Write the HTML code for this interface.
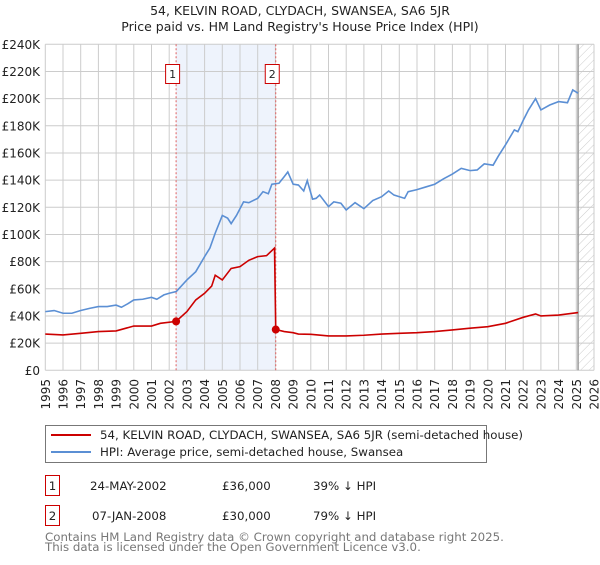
<!DOCTYPE html>
<html><head><meta charset="utf-8"><style>
body{margin:0;background:#fff;font-family:"Liberation Sans","DejaVu Sans",sans-serif;}
svg text{font-family:"DejaVu Sans","Liberation Sans",sans-serif;}
</style></head><body>
<svg id="chart" width="600" height="560" xmlns="http://www.w3.org/2000/svg">
<defs><pattern id="hatch" width="6" height="6" patternUnits="userSpaceOnUse" patternTransform="rotate(45)"><line x1="0" y1="0" x2="0" y2="6" stroke="#ccc" stroke-width="1"/></pattern></defs>
<text x="300" y="15" text-anchor="middle" font-size="12.5" fill="#222">54, KELVIN ROAD, CLYDACH, SWANSEA, SA6 5JR</text>
<text x="300" y="31" text-anchor="middle" font-size="12.5" fill="#222">Price paid vs. HM Land Registry's House Price Index (HPI)</text>
<g id="plot"></g>
<g>
<rect x="45.5" y="425.5" width="441" height="37" fill="#fff" stroke="#777"/>
<line x1="51" y1="435" x2="91" y2="435" stroke="#cc0000" stroke-width="2"/>
<text x="100" y="439" font-size="11.8" fill="#222">54, KELVIN ROAD, CLYDACH, SWANSEA, SA6 5JR (semi-detached house)</text>
<line x1="51" y1="452" x2="91" y2="452" stroke="#5b8fd4" stroke-width="2"/>
<text x="100" y="456" font-size="11.8" fill="#222">HPI: Average price, semi-detached house, Swansea</text>
</g>
<g font-size="11.8" fill="#222">
<rect x="45.5" y="475.5" width="14" height="20" fill="#fff" stroke="#c00"/>
<text x="52.5" y="490" text-anchor="middle">1</text>
<text x="90" y="490">24-MAY-2002</text><text x="222" y="490">£36,000</text><text x="313" y="490">39% ↓ HPI</text>
<rect x="45.5" y="505.5" width="14" height="20" fill="#fff" stroke="#c00"/>
<text x="52.5" y="520" text-anchor="middle">2</text>
<text x="92" y="520">07-JAN-2008</text><text x="222" y="520">£30,000</text><text x="313" y="520">79% ↓ HPI</text>
</g>
<text x="45" y="541" font-size="11.8" fill="#777">Contains HM Land Registry data © Crown copyright and database right 2025.</text>
<text x="45" y="551" font-size="11.8" fill="#777">This data is licensed under the Open Government Licence v3.0.</text>
</svg>
<script>
const yTicks=[0,20,40,60,80,100,120,140,160,180,200,220,240];
const yearTicks=[1995,1996,1997,1998,1999,2000,2001,2002,2003,2004,2005,2006,2007,2008,2009,2010,2011,2012,2013,2014,2015,2016,2017,2018,2019,2020,2021,2022,2023,2024,2025,2026];
const hpiYears=[1995,1995.5,1996,1996.5,1997,1997.5,1998,1998.5,1999,1999.3,1999.7,2000,2000.5,2001,2001.3,2001.7,2002,2002.4,2003,2003.5,2004,2004.3,2004.6,2005,2005.3,2005.5,2005.8,2006.2,2006.5,2007,2007.3,2007.6,2007.8,2008.2,2008.5,2008.7,2009,2009.3,2009.6,2009.8,2010.1,2010.3,2010.5,2011,2011.3,2011.7,2012,2012.5,2013,2013.5,2014,2014.4,2014.7,2015.3,2015.5,2016,2016.5,2017,2017.5,2018,2018.5,2019,2019.4,2019.8,2020.3,2020.6,2021,2021.5,2021.7,2022,2022.3,2022.7,2023,2023.5,2024,2024.5,2024.8,2025.1];
const hpiValues=[43.2,44,42,42,44,45.6,46.9,46.9,48,46.4,49.3,51.8,52.3,53.7,52.3,55.5,56.7,58,66.5,72.6,83.7,90,101,114,112,108,114,124,123.4,126.6,131.5,130,137,137.7,142.6,146,137,136.4,132,139.6,126,126.6,129,120.5,124,123,118,123.4,119,125,127.8,132,129,126.6,131.5,133,135,137,141,144.5,148.7,147,147.5,152,151,157.8,166,177,175.7,184,191.7,200,191.7,195.3,197.8,197,206.4,204];
const paidYears=[1995,1996,1997,1998,1999,2000,2001,2001.5,2002.39,2003,2003.5,2004,2004.4,2004.6,2005,2005.5,2006,2006.5,2007,2007.5,2007.95,2008.02,2008.5,2009,2009.3,2010,2011,2012,2013,2014,2015,2016,2017,2018,2019,2020,2021,2022,2022.7,2023,2024,2025.1];
const paidValues=[26.7,26,27.2,28.5,29,32.6,32.6,34.6,36,43.2,51.8,56.7,62,70,66.5,75,76.3,81,83.7,84.4,90,30,28.5,27.7,26.7,26.5,25.3,25.3,25.8,26.7,27.2,27.7,28.5,29.7,31,32.1,34.6,39,41.5,40,40.7,42.5];
const saleYears=[2002.39,2008.02];
const saleValues=[36,30];
const saleLabels=['1','2'];
const forecastStart=2025.1;

const NS='http://www.w3.org/2000/svg';
const L=45.3,R=594,T=44.3,B=370.3;
const xs=y=>L+(y-1995)/(2026-1995)*(R-L);
const ys=v=>B-v/240*(B-T);
const g=document.getElementById('plot');
function mk(t,a,p){const e=document.createElementNS(NS,t);for(const k in a)e.setAttribute(k,a[k]);(p||g).appendChild(e);return e;}

const sh=mk('rect',{x:xs(saleYears[0]),y:T,width:xs(saleYears[1])-xs(saleYears[0]),height:B-T,fill:'#eef3fc'});


const ht=mk('rect',{x:xs(forecastStart),y:T,width:R-xs(forecastStart),height:B-T,fill:'url(#hatch)'});



yTicks.forEach(v=>{
 const ln=mk('line',{x1:L,x2:R,y1:ys(v),y2:ys(v),stroke:'#cccccc','stroke-width':1});
 
 
 const t=mk('text',{x:40,y:ys(v)+4.5,'text-anchor':'end','font-size':12,fill:'#222'});
 
 
 t.textContent='£'+(v===0?'0':v+'K');
});
yearTicks.forEach(yr=>{
 const ln=mk('line',{x1:xs(yr),x2:xs(yr),y1:T,y2:B,stroke:'#cccccc','stroke-width':1});
 
 
 const t=mk('text',{x:0,y:0,'text-anchor':'end','font-size':12,fill:'#222',transform:`translate(${xs(yr)+4.5},379) rotate(-90)`});
 
 
 t.textContent=yr;
});
const fl=mk('line',{x1:xs(forecastStart),x2:xs(forecastStart),y1:T,y2:B,stroke:'#999','stroke-width':1.5});



saleYears.forEach((yr,i)=>{
 const ln=mk('line',{x1:xs(yr),x2:xs(yr),y1:T,y2:B,stroke:'#e06060','stroke-width':1,'stroke-dasharray':'2,2'});
 
 
 const r=mk('rect',{x:xs(yr)-10.5,y:64.5,width:14,height:19,fill:'#fff',stroke:'#c00'});
 
 
 const t=mk('text',{x:xs(yr)-3.5,y:78,'text-anchor':'middle','font-size':11,fill:'#222'});
 
 
 t.textContent=saleLabels[i];
});

const hp=mk('polyline',{points:hpiYears.map((y,i)=>xs(y)+','+ys(hpiValues[i])).join(' '),fill:'none',stroke:'#5b8fd4','stroke-width':1.6});


const pp=mk('polyline',{points:paidYears.map((y,i)=>xs(y)+','+ys(paidValues[i])).join(' '),fill:'none',stroke:'#cc0000','stroke-width':1.6});


saleYears.forEach((yr,i)=>{
 const c=mk('circle',{cx:xs(yr),cy:ys(saleValues[i]),r:4,fill:'#cc0000'});
 
 
});
</script>
</body></html>
